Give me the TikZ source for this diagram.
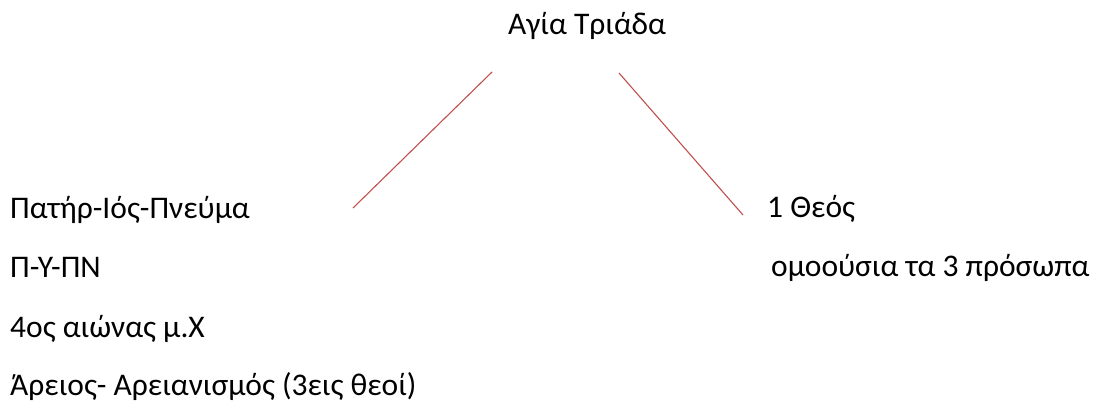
\documentclass[tikz,border=0pt]{standalone}
\usepackage{fontspec}
\setmainfont{Carlito}
\definecolor{linered}{HTML}{C0504D}
\tikzset{
  lbl/.style={anchor=base west, inner sep=0pt, font=\fontsize{31.5}{36}\selectfont},
  conn/.style={draw=linered, line width=1.1pt}
}
\begin{document}
\begin{tikzpicture}[x=1pt,y=-1pt]
\useasboundingbox (0,0) rectangle (1099,404);
\node[lbl] (top) at (508,35) {Αγία Τριάδα};
\node[lbl] (l1) at (10,218) {Πατήρ-Ιός-Πνεύμα};
\node[lbl] (l2) at (10,277) {Π-Υ-ΠΝ};
\node[lbl] (l3) at (10,337) {4ος αιώνας μ.Χ};
\node[lbl] (l4) at (10,395) {Άρειος- Αρειανισμός (3εις θεοί)};
\node[lbl] (r1) at (767,217) {1 Θεός};
\node[lbl] (r2) at (771,276) {ομοούσια τα 3 πρόσωπα};
\coordinate (a1) at (492,72);
\coordinate (a2) at (353,208);
\coordinate (b1) at (619,73);
\coordinate (b2) at (743,215);
\draw[conn] (a1) -- (a2);
\draw[conn] (b1) -- (b2);
\end{tikzpicture}
\end{document}
